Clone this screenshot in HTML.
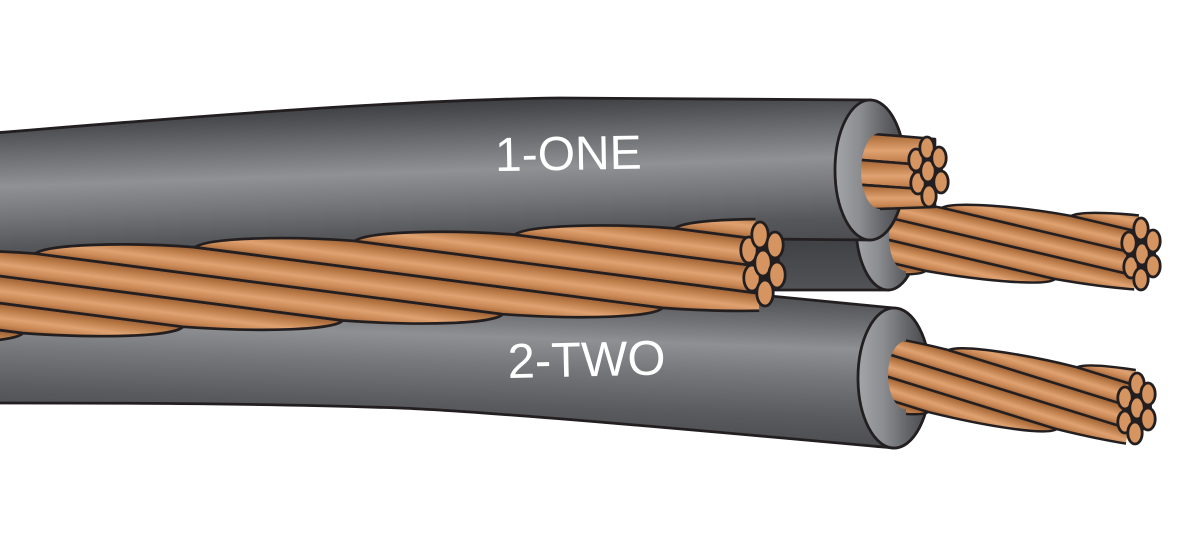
<!DOCTYPE html>
<html>
<head>
<meta charset="utf-8">
<style>
html,body{margin:0;padding:0;background:#fff;width:1200px;height:549px;overflow:hidden}
svg{display:block}
</style>
</head>
<body>
<svg width="1200" height="549" viewBox="0 0 1200 549" xmlns="http://www.w3.org/2000/svg">
<defs>
  <linearGradient id="gTop" gradientUnits="userSpaceOnUse" x1="0" y1="95" x2="0" y2="255" gradientTransform="rotate(-2 700 163)">
    <stop offset="0" stop-color="#414246"/>
    <stop offset="0.05" stop-color="#4a4b4f"/>
    <stop offset="0.2" stop-color="#67686c"/>
    <stop offset="0.42" stop-color="#909195"/>
    <stop offset="0.6" stop-color="#76777b"/>
    <stop offset="0.8" stop-color="#56575b"/>
    <stop offset="1" stop-color="#47484c"/>
  </linearGradient>
  <linearGradient id="gBot" gradientUnits="userSpaceOnUse" x1="0" y1="290" x2="0" y2="452" gradientTransform="rotate(2 450 335)">
    <stop offset="0" stop-color="#55565a"/>
    <stop offset="0.15" stop-color="#727377"/>
    <stop offset="0.28" stop-color="#8f9094"/>
    <stop offset="0.45" stop-color="#77787c"/>
    <stop offset="0.7" stop-color="#5a5b5f"/>
    <stop offset="1" stop-color="#434448"/>
  </linearGradient>
  <linearGradient id="gMid" x1="0" y1="0" x2="0" y2="1">
    <stop offset="0" stop-color="#55565a"/>
    <stop offset="0.6" stop-color="#3f4044"/>
    <stop offset="1" stop-color="#525357"/>
  </linearGradient>
  <linearGradient id="gFace" x1="0" y1="0" x2="1" y2="0">
    <stop offset="0" stop-color="#a3a5a9"/>
    <stop offset="0.35" stop-color="#8c8d91"/>
    <stop offset="0.7" stop-color="#626367"/>
    <stop offset="1" stop-color="#45464a"/>
  </linearGradient>
  <linearGradient id="cu" gradientUnits="userSpaceOnUse" x1="200" y1="-8" x2="195.51" y2="18.44">
    <stop offset="0" stop-color="#9c5e33"/>
    <stop offset="0.22" stop-color="#b97a47"/>
    <stop offset="0.55" stop-color="#e0a271"/>
    <stop offset="0.8" stop-color="#c98855"/>
    <stop offset="1" stop-color="#a4663a"/>
  </linearGradient>
  <linearGradient id="cu2" x1="0" y1="0" x2="0" y2="1">
    <stop offset="0" stop-color="#9c5e33"/>
    <stop offset="0.22" stop-color="#b97a47"/>
    <stop offset="0.55" stop-color="#e0a271"/>
    <stop offset="0.8" stop-color="#c98855"/>
    <stop offset="1" stop-color="#a4663a"/>
  </linearGradient>
  <clipPath id="clipN"><rect x="-300" y="-80" width="1058" height="160"/></clipPath>
  <clipPath id="clipE1"><rect x="-300" y="-80" width="605" height="160"/></clipPath>
  <clipPath id="clipE2"><rect x="-300" y="-80" width="600" height="160"/></clipPath>
  <clipPath id="holeT"><path d="M880,110 L880,133 A19 38 0 0 0 880,209 L880,225 L980,225 L980,110 Z"/></clipPath>
  <clipPath id="holeM"><path d="M906,150 L906,203 A17 34 0 0 0 906,271 L906,330 L1200,330 L1200,150 Z"/></clipPath>
  <clipPath id="holeB"><path d="M906,300 L906,341 A18 34 0 0 0 906,409 L906,480 L1200,480 L1200,300 Z"/></clipPath>
</defs>

<!-- Bottom cable (2-TWO) -->
<path d="M-5,295 L770,296 L894,308 A36 70 0 0 1 894,448 C750,435 500,412 400,408 C250,403 100,403 -5,403 Z" fill="url(#gBot)" stroke="#231f20" stroke-width="2.8"/>
<ellipse cx="894" cy="378" rx="36" ry="70" fill="url(#gFace)" stroke="#231f20" stroke-width="2.8"/>
<g clip-path="url(#holeB)">
  <g transform="translate(890,375) rotate(7.6) scale(0.81)" clip-path="url(#clipE2)">
    <g fill="url(#cu)" stroke="#231f20" stroke-width="3.1" stroke-linejoin="round">
      <path transform="translate(-424,0)" d="M-148.2,-40C-135,-49 -57,-48 11.8,-40L476.5,39C468,48 398,48 316.5,39Z"/>
      <path transform="translate(-264,0)" d="M-148.2,-40C-135,-49 -57,-48 11.8,-40L476.5,39C468,48 398,48 316.5,39Z"/>
      <path transform="translate(-104,0)" d="M-148.2,-40C-135,-49 -57,-48 11.8,-40L476.5,39C468,48 398,48 316.5,39Z"/>
      <path transform="translate(56,0)" d="M-148.2,-40C-135,-49 -57,-48 11.8,-40L476.5,39C468,48 398,48 316.5,39Z"/>
      <path transform="translate(216,0)" d="M-148.2,-40C-135,-49 -57,-48 11.8,-40L476.5,39C468,48 398,48 316.5,39Z"/>
      <path transform="translate(376,0)" d="M-148.2,-40C-135,-49 -57,-48 11.8,-40L476.5,39C468,48 398,48 316.5,39Z"/>
    </g>
  </g>
</g>
<ellipse cx="1137" cy="408" rx="15" ry="25" fill="#231f20"/>
<g fill="#d69461" stroke="#231f20" stroke-width="2.8">
  <ellipse cx="1125" cy="398" rx="7.2" ry="11"/>
  <ellipse cx="1125" cy="422" rx="7.2" ry="11"/>
  <ellipse cx="1137" cy="384" rx="7.2" ry="11"/>
  <ellipse cx="1137" cy="408" rx="7.2" ry="11"/>
  <ellipse cx="1135" cy="433" rx="7.2" ry="11"/>
  <ellipse cx="1148" cy="394" rx="7.2" ry="11"/>
  <ellipse cx="1148" cy="419" rx="7.2" ry="11"/>
</g>

<!-- Middle cable -->
<path d="M600,160 L888,160 A32 65 0 0 1 888,290 L600,290 Z" fill="url(#gMid)" stroke="#231f20" stroke-width="2.8"/>
<ellipse cx="888" cy="225" rx="32" ry="65" fill="url(#gFace)" stroke="#231f20" stroke-width="2.8"/>
<g clip-path="url(#holeM)">
  <g transform="translate(890,237) rotate(3.6) scale(0.81)" clip-path="url(#clipE1)">
    <g fill="url(#cu)" stroke="#231f20" stroke-width="3.1" stroke-linejoin="round">
      <path transform="translate(-430,0)" d="M-148.2,-40C-135,-49 -57,-48 11.8,-40L476.5,39C468,48 398,48 316.5,39Z"/>
      <path transform="translate(-270,0)" d="M-148.2,-40C-135,-49 -57,-48 11.8,-40L476.5,39C468,48 398,48 316.5,39Z"/>
      <path transform="translate(-110,0)" d="M-148.2,-40C-135,-49 -57,-48 11.8,-40L476.5,39C468,48 398,48 316.5,39Z"/>
      <path transform="translate(50,0)" d="M-148.2,-40C-135,-49 -57,-48 11.8,-40L476.5,39C468,48 398,48 316.5,39Z"/>
      <path transform="translate(210,0)" d="M-148.2,-40C-135,-49 -57,-48 11.8,-40L476.5,39C468,48 398,48 316.5,39Z"/>
      <path transform="translate(370,0)" d="M-148.2,-40C-135,-49 -57,-48 11.8,-40L476.5,39C468,48 398,48 316.5,39Z"/>
    </g>
  </g>
</g>
<ellipse cx="1141" cy="254" rx="15" ry="25" fill="#231f20"/>
<g fill="#d69461" stroke="#231f20" stroke-width="2.8">
  <ellipse cx="1129" cy="243" rx="7.2" ry="11"/>
  <ellipse cx="1131" cy="267" rx="7.2" ry="11"/>
  <ellipse cx="1141" cy="229" rx="7.2" ry="11"/>
  <ellipse cx="1142" cy="254" rx="7.2" ry="11"/>
  <ellipse cx="1141" cy="279" rx="7.2" ry="11"/>
  <ellipse cx="1153" cy="241" rx="7.2" ry="11"/>
  <ellipse cx="1153" cy="266" rx="7.2" ry="11"/>
</g>

<!-- Top cable (1-ONE) -->
<path d="M-5,133 C200,116 400,100 560,98 L870,100 A35 70 0 0 1 870,240 L760,239 L-5,292 Z" fill="url(#gTop)" stroke="#231f20" stroke-width="2.8"/>
<ellipse cx="870" cy="170" rx="35" ry="70" fill="url(#gFace)" stroke="#231f20" stroke-width="2.8"/>
<g clip-path="url(#holeT)" stroke="#231f20" stroke-width="2.6" stroke-linejoin="round">
  <path fill="url(#cu2)" d="M850,132 L935,139 L935,166 L850,159 Z"/>
  <path fill="url(#cu2)" d="M850,159 L935,166 L935,190 L850,184 Z"/>
  <path fill="url(#cu2)" d="M850,184 L935,190 L935,207 L850,210 Z"/>
</g>
<ellipse cx="928" cy="172" rx="15" ry="25" fill="#231f20"/>
<g fill="#d69461" stroke="#231f20" stroke-width="2.8">
  <ellipse cx="916" cy="160" rx="7.2" ry="11"/>
  <ellipse cx="918" cy="183" rx="7.2" ry="11"/>
  <ellipse cx="927" cy="148" rx="7.2" ry="11"/>
  <ellipse cx="928" cy="171" rx="7.2" ry="11"/>
  <ellipse cx="929" cy="196" rx="7.2" ry="11"/>
  <ellipse cx="939" cy="158" rx="7.2" ry="11"/>
  <ellipse cx="941" cy="182" rx="7.2" ry="11"/>
</g>

<!-- Bare twisted neutral -->
<g transform="translate(0,295) rotate(-2.26)" clip-path="url(#clipN)">
  <g fill="url(#cu)" stroke="#231f20" stroke-width="2.7" stroke-linejoin="round">
    <path transform="translate(-455,0)" d="M-148.2,-40C-135,-49 -57,-48 11.8,-40L476.5,39C468,48 398,48 316.5,39Z"/>
    <path transform="translate(-295,0)" d="M-148.2,-40C-135,-49 -57,-48 11.8,-40L476.5,39C468,48 398,48 316.5,39Z"/>
    <path transform="translate(-135,0)" d="M-148.2,-40C-135,-49 -57,-48 11.8,-40L476.5,39C468,48 398,48 316.5,39Z"/>
    <path transform="translate(25,0)" d="M-148.2,-40C-135,-49 -57,-48 11.8,-40L476.5,39C468,48 398,48 316.5,39Z"/>
    <path transform="translate(185,0)" d="M-148.2,-40C-135,-49 -57,-48 11.8,-40L476.5,39C468,48 398,48 316.5,39Z"/>
    <path transform="translate(345,0)" d="M-148.2,-40C-135,-49 -57,-48 11.8,-40L476.5,39C468,48 398,48 316.5,39Z"/>
    <path transform="translate(505,0)" d="M-148.2,-40C-135,-49 -57,-48 11.8,-40L476.5,39C468,48 398,48 316.5,39Z"/>
    <path transform="translate(665,0)" d="M-148.2,-40C-135,-49 -57,-48 11.8,-40L476.5,39C468,48 398,48 316.5,39Z"/>
    <path transform="translate(825,0)" d="M-148.2,-40C-135,-49 -57,-48 11.8,-40L476.5,39C468,48 398,48 316.5,39Z"/>
  </g>
</g>
<ellipse cx="763" cy="264" rx="17" ry="30" fill="#231f20"/>
<g fill="#d69461" stroke="#231f20" stroke-width="2.8">
  <ellipse cx="749" cy="250" rx="8.2" ry="13"/>
  <ellipse cx="752" cy="278" rx="8.2" ry="13"/>
  <ellipse cx="760" cy="235" rx="8.2" ry="13"/>
  <ellipse cx="763" cy="263" rx="8.2" ry="13"/>
  <ellipse cx="765" cy="293" rx="8.2" ry="13"/>
  <ellipse cx="775" cy="245" rx="8.2" ry="13"/>
  <ellipse cx="777" cy="275" rx="8.2" ry="13"/>
</g>

<!-- Labels -->
<text x="495" y="170" font-family="Liberation Sans, Arial, sans-serif" font-size="48" fill="#ffffff" transform="rotate(-1 560 155)">1-ONE</text>
<text x="508" y="378" font-family="Liberation Sans, Arial, sans-serif" font-size="49" fill="#ffffff" transform="rotate(-1.3 508 378)">2-TWO</text>
</svg>
</body>
</html>
